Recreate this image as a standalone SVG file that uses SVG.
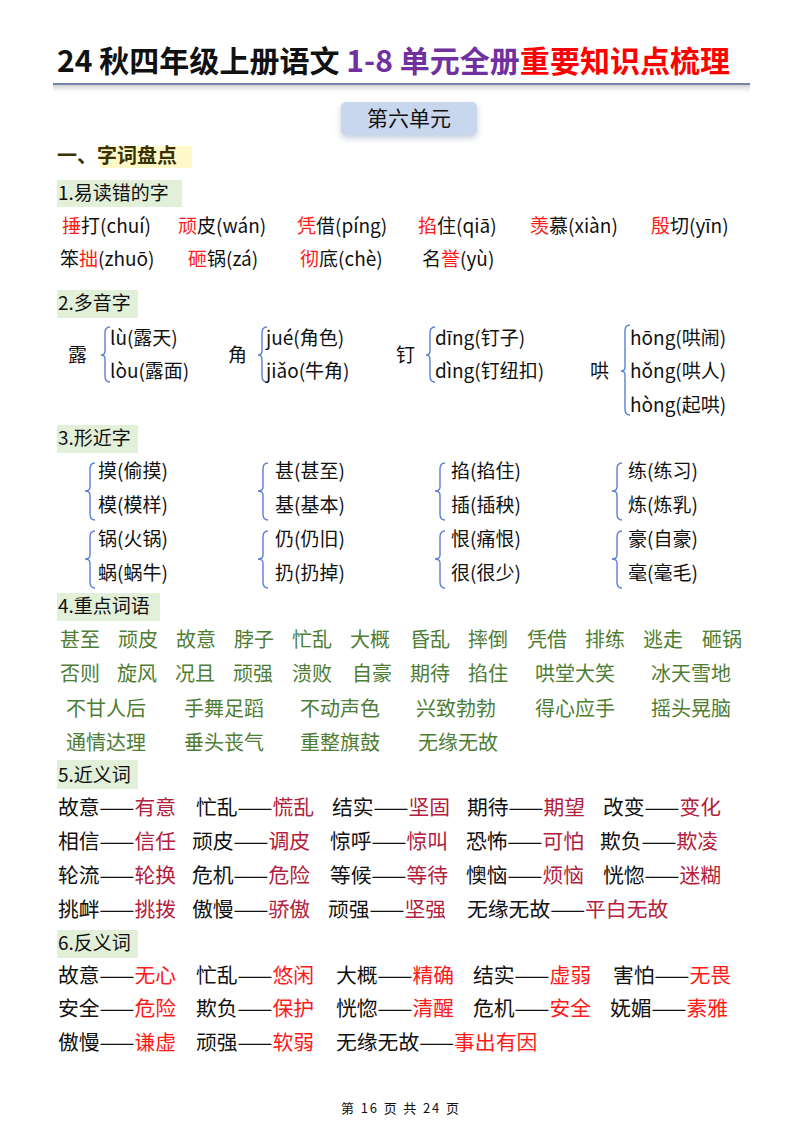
<svg xmlns="http://www.w3.org/2000/svg" width="800" height="1132" viewBox="0 0 800 1132">
<defs>
<linearGradient id="sh" x1="0" y1="0" x2="0" y2="1"><stop offset="0" stop-color="#bbb" stop-opacity="0.7"/><stop offset="1" stop-color="#fff" stop-opacity="0"/></linearGradient>
<filter id="bs" x="-20%" y="-40%" width="140%" height="200%"><feDropShadow dx="0" dy="3" stdDeviation="3" flood-color="#8899bb" flood-opacity="0.5"/></filter>
</defs>
<style>
text{font-family:"Noto Sans CJK SC","Liberation Sans",sans-serif;fill:#111}
.b{font-size:19px}
.r{fill:#ff1a1a}
.g{fill:#4e7d34;font-size:20px}
.d{fill:#b4203c}
.h{font-size:19px}
.hb{fill:#e2efd9}
.br{fill:none;stroke:#5b7fd6;stroke-width:1.4}
#syn text,#ant text{font-size:20.8px}
</style>
<rect width="800" height="1132" fill="#fff"/>
<g id="title">
<text x="57" y="72" font-size="30" font-weight="bold" textLength="673" lengthAdjust="spacing">24 秋四年级上册语文 <tspan fill="#7030a0">1-8 单元全册</tspan><tspan fill="#ff0000">重要知识点梳理</tspan></text>
<rect x="53" y="85" width="697" height="10" fill="url(#sh)"/>
<line x1="53" y1="84" x2="750" y2="84" stroke="#4a5a8a" stroke-width="1.5"/>
</g>
<g id="unit">
<rect x="341" y="102" width="136" height="33" rx="5" fill="#c9d7ee" filter="url(#bs)"/>
<text x="409" y="126" font-size="21" text-anchor="middle">第六单元</text>
</g>
<g id="s1">
<rect x="100" y="146" width="92" height="22" fill="#fff8c8"/>
<text x="57" y="163" font-size="20" font-weight="bold" style="fill:#3a3000">一、字词盘点</text>
</g>
<g id="h1"><rect class="hb" x="57" y="180" width="125" height="27"/><text class="h" x="58" y="200">1.易读错的字</text></g>
<g id="easy">
<text class="b" x="62" y="233"><tspan class="r">捶</tspan>打(chuí)</text>
<text class="b" x="178" y="233"><tspan class="r">顽</tspan>皮(wán)</text>
<text class="b" x="297" y="233"><tspan class="r">凭</tspan>借(píng)</text>
<text class="b" x="418" y="233"><tspan class="r">掐</tspan>住(qiā)</text>
<text class="b" x="530" y="233"><tspan class="r">羡</tspan>慕(xiàn)</text>
<text class="b" x="651" y="233"><tspan class="r">殷</tspan>切(yīn)</text>
<text class="b" x="60" y="266">笨<tspan class="r">拙</tspan>(zhuō)</text>
<text class="b" x="188" y="266"><tspan class="r">砸</tspan>锅(zá)</text>
<text class="b" x="300" y="266"><tspan class="r">彻</tspan>底(chè)</text>
<text class="b" x="422" y="266">名<tspan class="r">誉</tspan>(yù)</text>
</g>
<g id="h2"><rect class="hb" x="57" y="290" width="81" height="28"/><text class="h" x="58" y="310">2.多音字</text></g>
<g id="poly">
<text class="b" x="68" y="362">露</text>
<path class="br" d="M110,327 Q105,327 105,333 L105,351 Q105,355 101,355 Q105,355 105,359 L105,376 Q105,382 110,382"/>
<text class="b" x="110" y="345">lù(露天)</text><text class="b" x="110" y="378">lòu(露面)</text>
<text class="b" x="228" y="362">角</text>
<path class="br" d="M267,327 Q262,327 262,333 L262,351 Q262,355 258,355 Q262,355 262,359 L262,376 Q262,382 267,382"/>
<text class="b" x="266" y="345">jué(角色)</text><text class="b" x="266" y="378">jiǎo(牛角)</text>
<text class="b" x="396" y="362">钉</text>
<path class="br" d="M435,327 Q430,327 430,333 L430,351 Q430,355 426,355 Q430,355 430,359 L430,376 Q430,382 435,382"/>
<text class="b" x="435" y="345">dīng(钉子)</text><text class="b" x="435" y="378">dìng(钉纽扣)</text>
<text class="b" x="590" y="378">哄</text>
<path class="br" d="M630,325 Q625,325 625,331 L625,367 Q625,371 621,371 Q625,371 625,375 L625,409 Q625,415 630,415"/>
<text class="b" x="630" y="345">hōng(哄闹)</text><text class="b" x="630" y="378">hǒng(哄人)</text><text class="b" x="630" y="412">hòng(起哄)</text>
</g>
<g id="h3"><rect class="hb" x="57" y="425" width="81" height="28"/><text class="h" x="58" y="445">3.形近字</text></g>
<g id="similar">
<path class="br" d="M95,463 Q90,463 90,469 L90,487 Q90,491 85,491 Q90,491 90,495 L90,514 Q90,520 95,520"/>
<path class="br" d="M268,463 Q263,463 263,469 L263,487 Q263,491 258,491 Q263,491 263,495 L263,514 Q263,520 268,520"/>
<path class="br" d="M445,463 Q440,463 440,469 L440,487 Q440,491 435,491 Q440,491 440,495 L440,514 Q440,520 445,520"/>
<path class="br" d="M622,463 Q617,463 617,469 L617,487 Q617,491 612,491 Q617,491 617,495 L617,514 Q617,520 622,520"/>
<path class="br" d="M95,531 Q90,531 90,537 L90,555 Q90,559 85,559 Q90,559 90,563 L90,582 Q90,588 95,588"/>
<path class="br" d="M268,531 Q263,531 263,537 L263,555 Q263,559 258,559 Q263,559 263,563 L263,582 Q263,588 268,588"/>
<path class="br" d="M445,531 Q440,531 440,537 L440,555 Q440,559 435,559 Q440,559 440,563 L440,582 Q440,588 445,588"/>
<path class="br" d="M622,531 Q617,531 617,537 L617,555 Q617,559 612,559 Q617,559 617,563 L617,582 Q617,588 622,588"/>
<text class="b" x="98" y="478">摸(偷摸)</text><text class="b" x="98" y="512">模(模样)</text>
<text class="b" x="275" y="478">甚(甚至)</text><text class="b" x="275" y="512">基(基本)</text>
<text class="b" x="451" y="478">掐(掐住)</text><text class="b" x="451" y="512">插(插秧)</text>
<text class="b" x="628" y="478">练(练习)</text><text class="b" x="628" y="512">炼(炼乳)</text>
<text class="b" x="98" y="546">锅(火锅)</text><text class="b" x="98" y="580">蜗(蜗牛)</text>
<text class="b" x="275" y="546">仍(仍旧)</text><text class="b" x="275" y="580">扔(扔掉)</text>
<text class="b" x="451" y="546">恨(痛恨)</text><text class="b" x="451" y="580">很(很少)</text>
<text class="b" x="628" y="546">豪(自豪)</text><text class="b" x="628" y="580">毫(毫毛)</text>
</g>
<g id="h4"><rect class="hb" x="57" y="593" width="103" height="28"/><text class="h" x="58" y="613">4.重点词语</text></g>
<g id="words">
<text class="g" x="60" y="647">甚至</text><text class="g" x="118" y="647">顽皮</text><text class="g" x="176" y="647">故意</text><text class="g" x="234" y="647">脖子</text><text class="g" x="292" y="647">忙乱</text><text class="g" x="350" y="647">大概</text><text class="g" x="410" y="647">昏乱</text><text class="g" x="468" y="647">摔倒</text><text class="g" x="527" y="647">凭借</text><text class="g" x="585" y="647">排练</text><text class="g" x="643" y="647">逃走</text><text class="g" x="702" y="647">砸锅</text>
<text class="g" x="60" y="681">否则</text><text class="g" x="117" y="681">旋风</text><text class="g" x="175" y="681">况且</text><text class="g" x="233" y="681">顽强</text><text class="g" x="292" y="681">溃败</text><text class="g" x="352" y="681">自豪</text><text class="g" x="410" y="681">期待</text><text class="g" x="468" y="681">掐住</text><text class="g" x="535" y="681">哄堂大笑</text><text class="g" x="651" y="681">冰天雪地</text>
<text class="g" x="66" y="716">不甘人后</text><text class="g" x="184" y="716">手舞足蹈</text><text class="g" x="300" y="716">不动声色</text><text class="g" x="416" y="716">兴致勃勃</text><text class="g" x="535" y="716">得心应手</text><text class="g" x="651" y="716">摇头晃脑</text>
<text class="g" x="66" y="750">通情达理</text><text class="g" x="184" y="750">垂头丧气</text><text class="g" x="300" y="750">重整旗鼓</text><text class="g" x="418" y="750">无缘无故</text>
</g>
<g id="h5"><rect class="hb" x="57" y="760" width="81" height="29"/><text class="h" x="58" y="782">5.近义词</text></g>
<g id="syn">
<text x="58" y="815">故意——<tspan class="d">有意</tspan></text><text x="196" y="815">忙乱——<tspan class="d">慌乱</tspan></text><text x="332" y="815">结实——<tspan class="d">坚固</tspan></text><text x="467" y="815">期待——<tspan class="d">期望</tspan></text><text x="603" y="815">改变——<tspan class="d">变化</tspan></text>
<text x="58" y="849">相信——<tspan class="d">信任</tspan></text><text x="192" y="849">顽皮——<tspan class="d">调皮</tspan></text><text x="330" y="849">惊呼——<tspan class="d">惊叫</tspan></text><text x="466" y="849">恐怖——<tspan class="d">可怕</tspan></text><text x="600" y="849">欺负——<tspan class="d">欺凌</tspan></text>
<text x="58" y="883">轮流——<tspan class="d">轮换</tspan></text><text x="192" y="883">危机——<tspan class="d">危险</tspan></text><text x="330" y="883">等候——<tspan class="d">等待</tspan></text><text x="466" y="883">懊恼——<tspan class="d">烦恼</tspan></text><text x="603" y="883">恍惚——<tspan class="d">迷糊</tspan></text>
<text x="58" y="917">挑衅——<tspan class="d">挑拨</tspan></text><text x="192" y="917">傲慢——<tspan class="d">骄傲</tspan></text><text x="328" y="917">顽强——<tspan class="d">坚强</tspan></text><text x="467" y="917">无缘无故——<tspan class="d">平白无故</tspan></text>
</g>
<g id="h6"><rect class="hb" x="57" y="930" width="81" height="28"/><text class="h" x="58" y="950">6.反义词</text></g>
<g id="ant">
<text x="58" y="983">故意——<tspan class="r">无心</tspan></text><text x="196" y="983">忙乱——<tspan class="r">悠闲</tspan></text><text x="336" y="983">大概——<tspan class="r">精确</tspan></text><text x="473" y="983">结实——<tspan class="r">虚弱</tspan></text><text x="613" y="983">害怕——<tspan class="r">无畏</tspan></text>
<text x="58" y="1016">安全——<tspan class="r">危险</tspan></text><text x="196" y="1016">欺负——<tspan class="r">保护</tspan></text><text x="336" y="1016">恍惚——<tspan class="r">清醒</tspan></text><text x="473" y="1016">危机——<tspan class="r">安全</tspan></text><text x="610" y="1016">妩媚——<tspan class="r">素雅</tspan></text>
<text x="58" y="1050">傲慢——<tspan class="r">谦虚</tspan></text><text x="196" y="1050">顽强——<tspan class="r">软弱</tspan></text><text x="336" y="1050">无缘无故——<tspan class="r">事出有因</tspan></text>
</g>
<g id="footer"><text x="341" y="1113" font-size="13" textLength="118" lengthAdjust="spacing">第 16 页 共 24 页</text></g>
</svg>
